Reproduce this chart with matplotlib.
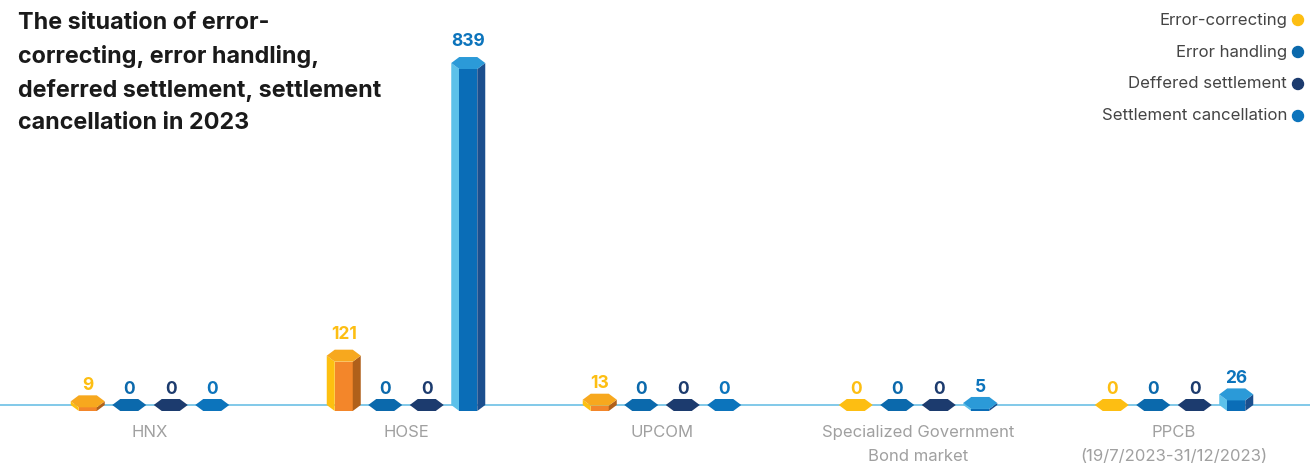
import numpy as np
import matplotlib.pyplot as plt
from matplotlib.patches import Polygon, Ellipse

plt.rcParams['font.family'] = ['Inter', 'DejaVu Sans']

categories = ['HNX', 'HOSE', 'UPCOM', 'Specialized Government\nBond market',
              'PPCB\n(19/7/2023-31/12/2023)']
series = ['Error-correcting', 'Error handling', 'Deffered settlement', 'Settlement cancellation']
error_correcting = [9, 121, 13, 0, 0]
error_handling = [0, 0, 0, 0, 0]
deferred_settlement = [0, 0, 0, 0, 0]
settlement_cancellation = [0, 839, 0, 5, 26]
values = [error_correcting, error_handling, deferred_settlement, settlement_cancellation]

# colours: label / flat, then top, left, front, right faces
label_col = ['#FDBE12', '#0B69AC', '#1C3B6E', '#0C74BC']
faces = [
    ('#F7A81E', '#FDC010', '#F3862A', '#B0601A'),
    ('#0B69AC', '#1E85C8', '#0B69AC', '#0A4F85'),
    ('#1C3B6E', '#2D5590', '#1C3B6E', '#132A52'),
    ('#2B9AD8', '#5CC1EA', '#0A6DB7', '#1B4F8E'),
]

W, H = 1310, 467
fig = plt.figure(figsize=(W / 100, H / 100), dpi=100)
ax = fig.add_axes([0, 0, 1, 1])
ax.axis('off')

px_x = 256.0          # pixels per category
px_y = 0.4076         # pixels per unit
x0, y0 = 150, 62      # pixel position of first category / baseline
ax.set_xlim(-x0 / px_x, (W - x0) / px_x)
ax.set_ylim(-y0 / px_y, (H - y0) / px_y)

ux = 1 / px_x
uy = 1 / px_y
w = 34 * ux
d = 8 * ux
h = 6 * uy
step = 41.5 * ux

ax.axhline(0, color='#6CC0E5', lw=1.2, zorder=1)


def hexagon(cx, cy):
    return [(cx - w / 2, cy), (cx - w / 2 + d, cy + h), (cx + w / 2 - d, cy + h),
            (cx + w / 2, cy), (cx + w / 2 - d, cy - h), (cx - w / 2 + d, cy - h)]


for s, vals in enumerate(values):
    top_c, left_c, front_c, right_c = faces[s]
    for g, v in enumerate(vals):
        cx = g + (s - 1.5) * step
        if v == 0:
            ax.add_patch(Polygon(hexagon(cx, 0), closed=True, fc=label_col[s], ec='none', zorder=3))
        else:
            l, ll, rr, r = cx - w / 2, cx - w / 2 + d, cx + w / 2 - d, cx + w / 2
            ax.add_patch(Polygon([(l, v), (ll, v - h), (ll, -h), (l, 0)], fc=left_c, ec='none', zorder=3))
            ax.add_patch(Polygon([(ll, v - h), (rr, v - h), (rr, -h), (ll, -h)], fc=front_c, ec='none', zorder=3))
            ax.add_patch(Polygon([(rr, v - h), (r, v), (r, 0), (rr, -h)], fc=right_c, ec='none', zorder=3))
            ax.add_patch(Polygon(hexagon(cx, v), closed=True, fc=top_c, ec='none', zorder=4))
        off = 5 if v > 100 else 1
        ax.annotate(str(v), (cx, v + h), xytext=(0, off), textcoords='offset points',
                    ha='center', va='bottom', fontsize=12.5, fontweight='bold',
                    color=label_col[s], zorder=5)

for g, c in enumerate(categories):
    ax.text(g, -20 * uy, c, ha='center', va='top', fontsize=12, color='#A0A0A0',
            linespacing=1.75)

fig.text(18 / W, 1 - 12 / H,
         'The situation of error-\ncorrecting, error handling,\ndeferred settlement, settlement\ncancellation in 2023',
         ha='left', va='top', fontsize=16.8, fontweight='bold', color='#1A1A1A', linespacing=1.6)

for i, name in enumerate(series):
    yy = 1 - (20 + 32 * i) / H
    fig.text(1287 / W, yy, name, ha='right', va='center', fontsize=12.1, color='#444444')
    fig.add_artist(Ellipse((1298 / W, yy), 11 / W, 11 / H, transform=fig.transFigure,
                           color=label_col[i]))

fig.savefig('out.png', dpi=100)
